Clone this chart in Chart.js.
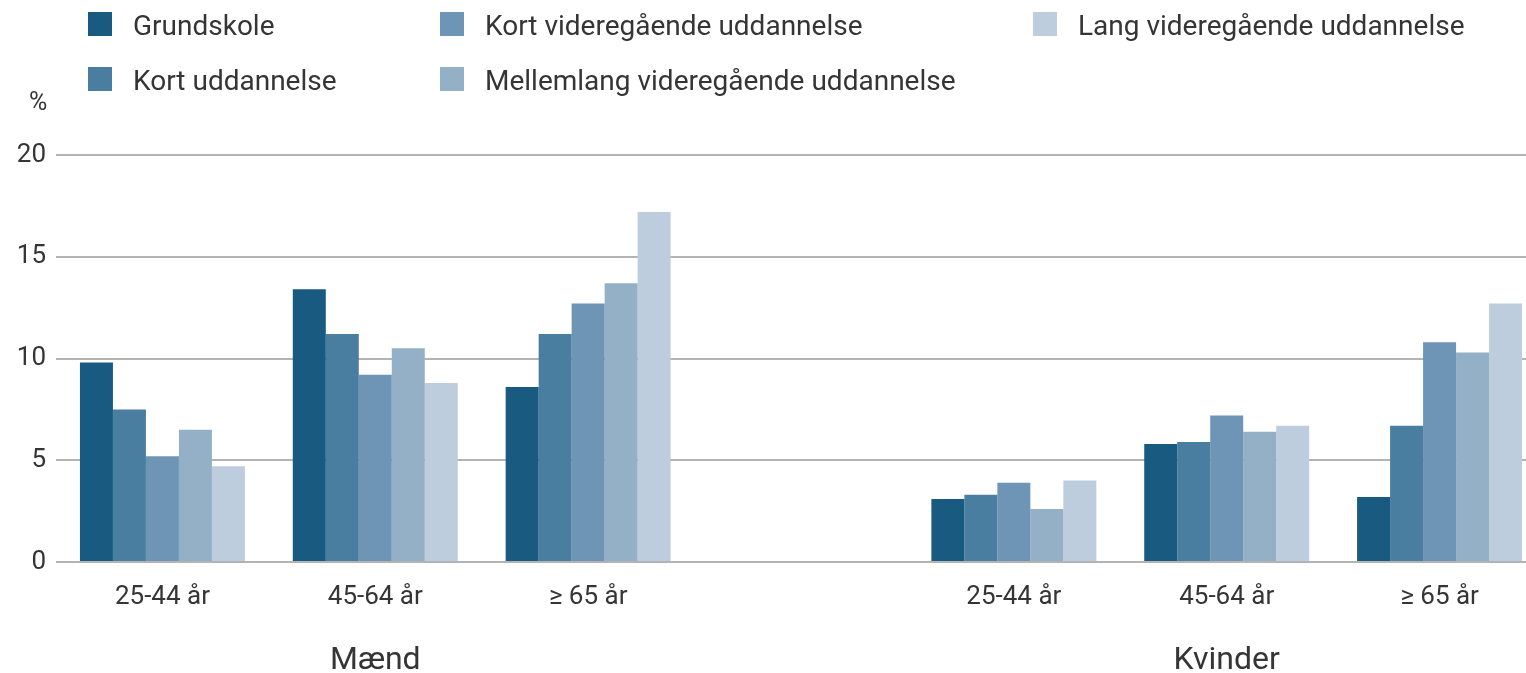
<!DOCTYPE html>
<html>
<head>
<meta charset="utf-8">
<script src="https://cdn.jsdelivr.net/npm/chart.js@4.4.1/dist/chart.umd.min.js"></script>
<style>
    html, body { margin: 0; padding: 0; background: #ffffff; overflow: hidden; }
    #wrap { position: relative; width: 1546px; height: 673px; }
    #legend { position: absolute; left: 0; top: 0; font-family: Roboto, sans-serif; font-size: 28px; color: #353535; }
    .item { position: absolute; display: flex; align-items: center; height: 24px; white-space: nowrap; }
    .box { width: 24px; height: 24px; margin-right: 21px; flex: none; }
    .txt { line-height: 24px; margin-top: 3px; }
    #unit { position: absolute; left: 29px; top: 87px; font-family: Roboto, sans-serif; font-size: 25px; color: #353535; }
</style>
</head>
<body>
<div id="wrap">
    <canvas id="eduChart"></canvas>
    <div id="legend"></div>
    <div id="unit">%</div>
</div>
<script>
(function() {
    'use strict';

    // data
    var ageLabels   = ['25-44 år', '45-64 år', '≥ 65 år', '', '25-44 år', '45-64 år', '≥ 65 år'];
    var groupLabels = ['', 'Mænd', '', '', '', 'Kvinder', ''];
    var seriesNames = ['Grundskole', 'Kort uddannelse', 'Kort videregående uddannelse', 'Mellemlang videregående uddannelse', 'Lang videregående uddannelse'];

    var grundskole   = [9.8, 13.4, 8.6, null, 3.1, 5.8, 3.2];
    var kortUdd      = [7.5, 11.2, 11.2, null, 3.3, 5.9, 6.7];
    var kortVid      = [5.2, 9.2, 12.7, null, 3.9, 7.2, 10.8];
    var mellemlang   = [6.5, 10.5, 13.7, null, 2.6, 6.4, 10.3];
    var langVid      = [4.7, 8.8, 17.2, null, 4.0, 6.7, 12.7];

    var yTicks = [0, 5, 10, 15, 20];

    var colors = {
        grundskole : "#185a80",
        kortUdd    : "#4a7ea1",
        kortVid    : "#6e95b5",
        mellemlang : "#93b0c7",
        langVid    : "#bdcddd",
        grid       : "#b3b3b3",
        text       : "#353535"
    };
    var fontFamily = "Roboto, sans-serif";

    var seriesData   = [grundskole, kortUdd, kortVid, mellemlang, langVid];
    var seriesColors = [colors.grundskole, colors.kortUdd, colors.kortVid, colors.mellemlang, colors.langVid];

    // legend (html, laid out like the original: 3 columns, 2 rows)
    var legendPos = [[88, 12], [88, 67], [440, 12], [440, 67], [1033, 12]];
    var legendEl = document.getElementById('legend');
    seriesNames.forEach(function(name, i) {
        var item = document.createElement('div');
        item.className = 'item';
        item.style.left = legendPos[i][0] + 'px';
        item.style.top = legendPos[i][1] + 'px';
        item.innerHTML = '<span class="box" style="background:' + seriesColors[i] + '"></span><span class="txt">' + name + '</span>';
        legendEl.appendChild(item);
    });

    var datasets = seriesNames.map(function(name, i) {
        return {
            label: name,
            data: seriesData[i],
            backgroundColor: seriesColors[i],
            borderWidth: 0,
            categoryPercentage: 0.775,
            barPercentage: 1.0
        };
    });

    new Chart(document.getElementById('eduChart'), {
        type: 'bar',
        data: {
            labels: ageLabels,
            datasets: datasets
        },
        options: {
            responsive: true,
            maintainAspectRatio: false,
            animation: false,
            layout: {
                padding: { top: 155, left: 0, right: 0, bottom: 0 }
            },
            plugins: {
                legend: { display: false },
                tooltip: { enabled: false }
            },
            scales: {
                x: {
                    position: 'bottom',
                    grid: { display: false, drawTicks: false },
                    border: { display: false },
                    ticks: {
                        color: colors.text,
                        padding: 20,
                        font: { size: 26, family: fontFamily }
                    },
                    afterFit: function(axis) { axis.height = 62; }
                },
                x2: {
                    type: 'category',
                    position: 'bottom',
                    labels: groupLabels,
                    offset: true,
                    grid: { display: false, drawTicks: false },
                    border: { display: false },
                    ticks: {
                        color: colors.text,
                        padding: 18,
                        autoSkip: false,
                        font: { size: 32, family: fontFamily }
                    },
                    afterFit: function(axis) { axis.height = 49; }
                },
                y: {
                    min: 0,
                    max: 20,
                    grid: {
                        color: colors.grid,
                        lineWidth: 2,
                        drawTicks: false
                    },
                    border: { display: false },
                    afterBuildTicks: function(axis) {
                        axis.ticks = yTicks.map(function(v) { return { value: v }; });
                    },
                    ticks: {
                        color: colors.text,
                        padding: 10,
                        font: { size: 26, family: fontFamily }
                    },
                    afterFit: function(axis) { axis.width = 56; }
                }
            }
        }
    });
})();
</script>
</body>
</html>
